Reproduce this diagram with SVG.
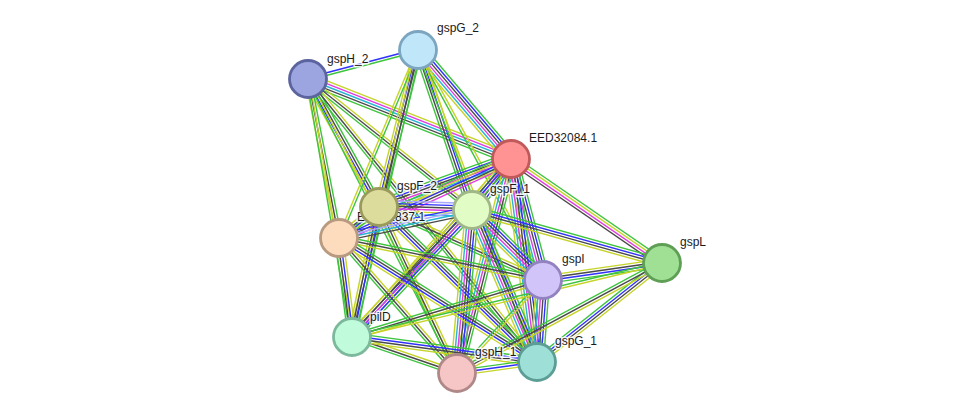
<svg xmlns="http://www.w3.org/2000/svg" xmlns:xlink="http://www.w3.org/1999/xlink" width="975" height="418" viewBox="0 0 975 418">
<style>
line{stroke-width:1.4;vector-effect:non-scaling-stroke;fill:none}
.g{stroke:#3ec43e}.b{stroke:#3030ff}.k{stroke:#4a4a4a}.m{stroke:#e03ce0}.c{stroke:#28b4d4}.y{stroke:#c6d42a}.h{stroke:#a8a8ff}
.node{stroke-width:2.8}
.lbl{font-family:"Liberation Sans",Arial,sans-serif;font-size:12px;fill:#1a1a1a;stroke:#ffffff;stroke-opacity:0.85;stroke-width:3;paint-order:stroke;stroke-linejoin:round}
</style>
<defs>
<g id="bg"><line class="b" x1="0" y1="-1.3" x2="1" y2="-1.3"/><line class="g" x1="0" y1="1.3" x2="1" y2="1.3"/></g>
<g id="yg"><line class="y" x1="0" y1="-1.3" x2="1" y2="-1.3"/><line class="g" x1="0" y1="1.3" x2="1" y2="1.3"/></g>
<g id="gy"><line class="g" x1="0" y1="-1.3" x2="1" y2="-1.3"/><line class="y" x1="0" y1="1.3" x2="1" y2="1.3"/></g>
<g id="ykg"><line class="y" x1="0" y1="-2.6" x2="1" y2="-2.6"/><line class="k" x1="0" y1="0" x2="1" y2="0"/><line class="g" x1="0" y1="2.6" x2="1" y2="2.6"/></g>
<g id="gky"><line class="g" x1="0" y1="-2.6" x2="1" y2="-2.6"/><line class="k" x1="0" y1="0" x2="1" y2="0"/><line class="y" x1="0" y1="2.6" x2="1" y2="2.6"/></g>
<g id="gby"><line class="g" x1="0" y1="-2.6" x2="1" y2="-2.6"/><line class="b" x1="0" y1="0" x2="1" y2="0"/><line class="y" x1="0" y1="2.6" x2="1" y2="2.6"/></g>
<g id="gkby"><line class="g" x1="0" y1="-3.9" x2="1" y2="-3.9"/><line class="k" x1="0" y1="-1.3" x2="1" y2="-1.3"/><line class="b" x1="0" y1="1.3" x2="1" y2="1.3"/><line class="y" x1="0" y1="3.9" x2="1" y2="3.9"/></g>
<g id="gbky"><line class="g" x1="0" y1="-3.9" x2="1" y2="-3.9"/><line class="b" x1="0" y1="-1.3" x2="1" y2="-1.3"/><line class="k" x1="0" y1="1.3" x2="1" y2="1.3"/><line class="y" x1="0" y1="3.9" x2="1" y2="3.9"/></g>
<g id="ybkg"><line class="y" x1="0" y1="-3.9" x2="1" y2="-3.9"/><line class="b" x1="0" y1="-1.3" x2="1" y2="-1.3"/><line class="k" x1="0" y1="1.3" x2="1" y2="1.3"/><line class="g" x1="0" y1="3.9" x2="1" y2="3.9"/></g>
<g id="ykbg"><line class="y" x1="0" y1="-3.9" x2="1" y2="-3.9"/><line class="k" x1="0" y1="-1.3" x2="1" y2="-1.3"/><line class="b" x1="0" y1="1.3" x2="1" y2="1.3"/><line class="g" x1="0" y1="3.9" x2="1" y2="3.9"/></g>
<g id="gymk"><line class="g" x1="0" y1="-3.9" x2="1" y2="-3.9"/><line class="y" x1="0" y1="-1.3" x2="1" y2="-1.3"/><line class="m" x1="0" y1="1.3" x2="1" y2="1.3"/><line class="k" x1="0" y1="3.9" x2="1" y2="3.9"/></g>
<g id="bhck"><line class="b" x1="0" y1="-3.9" x2="1" y2="-3.9"/><line class="h" x1="0" y1="-1.3" x2="1" y2="-1.3"/><line class="c" x1="0" y1="1.3" x2="1" y2="1.3"/><line class="k" x1="0" y1="3.9" x2="1" y2="3.9"/></g>
<g id="ymckg"><line class="y" x1="0" y1="-5.2" x2="1" y2="-5.2"/><line class="m" x1="0" y1="-2.6" x2="1" y2="-2.6"/><line class="c" x1="0" y1="0" x2="1" y2="0"/><line class="k" x1="0" y1="2.6" x2="1" y2="2.6"/><line class="g" x1="0" y1="5.2" x2="1" y2="5.2"/></g>
<g id="mkbyg"><line class="m" x1="0" y1="-5.2" x2="1" y2="-5.2"/><line class="k" x1="0" y1="-2.6" x2="1" y2="-2.6"/><line class="b" x1="0" y1="0" x2="1" y2="0"/><line class="y" x1="0" y1="2.6" x2="1" y2="2.6"/><line class="g" x1="0" y1="5.2" x2="1" y2="5.2"/></g>
<g id="gkmcy"><line class="g" x1="0" y1="-5.2" x2="1" y2="-5.2"/><line class="k" x1="0" y1="-2.6" x2="1" y2="-2.6"/><line class="m" x1="0" y1="0" x2="1" y2="0"/><line class="c" x1="0" y1="2.6" x2="1" y2="2.6"/><line class="y" x1="0" y1="5.2" x2="1" y2="5.2"/></g>
<g id="gbmky"><line class="g" x1="0" y1="-5.2" x2="1" y2="-5.2"/><line class="b" x1="0" y1="-2.6" x2="1" y2="-2.6"/><line class="m" x1="0" y1="0" x2="1" y2="0"/><line class="k" x1="0" y1="2.6" x2="1" y2="2.6"/><line class="y" x1="0" y1="5.2" x2="1" y2="5.2"/></g>
<g id="gbkmcy"><line class="g" x1="0" y1="-6.5" x2="1" y2="-6.5"/><line class="b" x1="0" y1="-3.9" x2="1" y2="-3.9"/><line class="k" x1="0" y1="-1.3" x2="1" y2="-1.3"/><line class="m" x1="0" y1="1.3" x2="1" y2="1.3"/><line class="c" x1="0" y1="3.9" x2="1" y2="3.9"/><line class="y" x1="0" y1="6.5" x2="1" y2="6.5"/></g>
<g id="hbkmyc"><line class="h" x1="0" y1="-6.5" x2="1" y2="-6.5"/><line class="b" x1="0" y1="-3.9" x2="1" y2="-3.9"/><line class="k" x1="0" y1="-1.3" x2="1" y2="-1.3"/><line class="m" x1="0" y1="1.3" x2="1" y2="1.3"/><line class="y" x1="0" y1="3.9" x2="1" y2="3.9"/><line class="c" x1="0" y1="6.5" x2="1" y2="6.5"/></g>
</defs>
<rect width="975" height="418" fill="#ffffff"/>
<g id="edges">
<use href="#bg" transform="translate(308 79) rotate(-14.77) scale(113.76 1)"/>
<use href="#ymckg" transform="translate(308 79) rotate(21.51) scale(218.2 1)"/>
<use href="#gkby" transform="translate(308 79) rotate(60.98) scale(146.37 1)"/>
<use href="#ykg" transform="translate(308 79) rotate(38.62) scale(209.9 1)"/>
<use href="#gky" transform="translate(308 79) rotate(78.97) scale(162 1)"/>
<use href="#yg" transform="translate(308 79) rotate(80.32) scale(261.7 1)"/>
<use href="#yg" transform="translate(308 79) rotate(63.13) scale(329.6 1)"/>
<use href="#ykg" transform="translate(308 79) rotate(51.02) scale(364 1)"/>
<use href="#gbkmcy" transform="translate(418 50) rotate(49.53) scale(143.3 1)"/>
<use href="#gkby" transform="translate(418 50) rotate(103.95) scale(161.8 1)"/>
<use href="#ybkg" transform="translate(418 50) rotate(71.35) scale(168.9 1)"/>
<use href="#gy" transform="translate(418 50) rotate(112.79) scale(203.9 1)"/>
<use href="#gky" transform="translate(418 50) rotate(102.95) scale(294.5 1)"/>
<use href="#yg" transform="translate(418 50) rotate(61.48) scale(261.8 1)"/>
<use href="#yg" transform="translate(418 50) rotate(69.12) scale(333.9 1)"/>
<use href="#gbkmcy" transform="translate(379 207) rotate(-19.98) scale(140.5 1)"/>
<use href="#gbkmcy" transform="translate(511 159) rotate(127.4) scale(64.2 1)"/>
<use href="#mkbyg" transform="translate(511 159) rotate(155.33) scale(189.3 1)"/>
<use href="#gbkmcy" transform="translate(511 159) rotate(75.19) scale(125.2 1)"/>
<use href="#gymk" transform="translate(511 159) rotate(34.56) scale(183.3 1)"/>
<use href="#gbky" transform="translate(511 159) rotate(131.78) scale(238.7 1)"/>
<use href="#gkmcy" transform="translate(511 159) rotate(104.16) scale(220.7 1)"/>
<use href="#gbkmcy" transform="translate(511 159) rotate(82.7) scale(204.7 1)"/>
<use href="#hbkmyc" transform="translate(379 207) rotate(1.85) scale(93.05 1)"/>
<use href="#gbky" transform="translate(379 207) rotate(142.22) scale(50.6 1)"/>
<use href="#ykg" transform="translate(379 207) rotate(24) scale(179.5 1)"/>
<use href="#gbky" transform="translate(379 207) rotate(101.73) scale(132.8 1)"/>
<use href="#ykg" transform="translate(379 207) rotate(64.83) scale(183.4 1)"/>
<use href="#gkby" transform="translate(379 207) rotate(44.45) scale(221.3 1)"/>
<use href="#bhck" transform="translate(339 238) rotate(-11.89) scale(135.9 1)"/>
<use href="#gbkmcy" transform="translate(472 210) rotate(44.59) scale(99.7 1)"/>
<use href="#gbky" transform="translate(472 210) rotate(15.59) scale(197.3 1)"/>
<use href="#gbmky" transform="translate(472 210) rotate(133.38) scale(174.7 1)"/>
<use href="#gbkmcy" transform="translate(472 210) rotate(95.26) scale(163.7 1)"/>
<use href="#gbkmcy" transform="translate(472 210) rotate(66.84) scale(165.3 1)"/>
<use href="#gky" transform="translate(339 238) rotate(11.63) scale(208.3 1)"/>
<use href="#ybkg" transform="translate(339 238) rotate(82.52) scale(99.85 1)"/>
<use href="#ykg" transform="translate(339 238) rotate(48.84) scale(179.3 1)"/>
<use href="#gkby" transform="translate(339 238) rotate(32.06) scale(233.6 1)"/>
<use href="#ykbg" transform="translate(543 280) rotate(-8.13) scale(120.2 1)"/>
<use href="#gky" transform="translate(352 337) rotate(-16.62) scale(199.3 1)"/>
<use href="#gy" transform="translate(457 373) rotate(-47.24) scale(126.7 1)"/>
<use href="#gbkmcy" transform="translate(543 280) rotate(94.18) scale(82.2 1)"/>
<use href="#gbky" transform="translate(537 362) rotate(-38.38) scale(159.5 1)"/>
<use href="#gky" transform="translate(457 373) rotate(-28.22) scale(232.6 1)"/>
<use href="#gy" transform="translate(352 337) rotate(-13.43) scale(318.7 1)"/>
<use href="#ykg" transform="translate(352 337) rotate(18.92) scale(111 1)"/>
<use href="#gbky" transform="translate(352 337) rotate(7.7) scale(186.7 1)"/>
<use href="#gby" transform="translate(457 373) rotate(-7.83) scale(80.75 1)"/>
</g>
<g id="n_gspH_2"><circle class="node" cx="308" cy="79" r="18.5" fill="#9ca5e0" stroke="#5b649e"/><text class="lbl" x="327" y="63">gspH_2</text></g>
<g id="n_gspG_2"><circle class="node" cx="418" cy="50" r="18.5" fill="#c0e6fa" stroke="#7ca6c0"/><text class="lbl" x="437" y="32">gspG_2</text></g>
<g id="n_EED32084_1"><circle class="node" cx="511" cy="159" r="18.5" fill="#ff9393" stroke="#c05a5a"/><text class="lbl" x="529" y="142">EED32084.1</text></g>
<g id="n_EED32837_1"><circle class="node" cx="339" cy="238" r="18.5" fill="#fddcbe" stroke="#b89a80"/><text class="lbl" x="357" y="221">EED32837.1</text></g>
<g id="n_gspF_2"><circle class="node" cx="379" cy="207" r="18.5" fill="#dcdc9c" stroke="#9a9a5c"/><text class="lbl" x="397" y="190">gspF_2</text></g>
<g id="n_gspF_1"><circle class="node" cx="472" cy="210" r="18.5" fill="#e2fcc6" stroke="#a0b888"/><text class="lbl" x="490" y="193">gspF_1</text></g>
<g id="n_gspI"><circle class="node" cx="543" cy="280" r="18.5" fill="#d0c4f8" stroke="#9282c0"/><text class="lbl" x="562" y="263">gspI</text></g>
<g id="n_gspL"><circle class="node" cx="662" cy="263" r="18.5" fill="#a0e095" stroke="#5e9e55"/><text class="lbl" x="680" y="246">gspL</text></g>
<g id="n_pilD"><circle class="node" cx="352" cy="337" r="18.5" fill="#c0fbdc" stroke="#7cb89c"/><text class="lbl" x="370" y="321">pilD</text></g>
<g id="n_gspH_1"><circle class="node" cx="457" cy="373" r="18.5" fill="#f6c6c6" stroke="#b08888"/><text class="lbl" x="475" y="356">gspH_1</text></g>
<g id="n_gspG_1"><circle class="node" cx="537" cy="362" r="18.5" fill="#9ee0d8" stroke="#5c9e96"/><text class="lbl" x="555" y="345">gspG_1</text></g>
</svg>
